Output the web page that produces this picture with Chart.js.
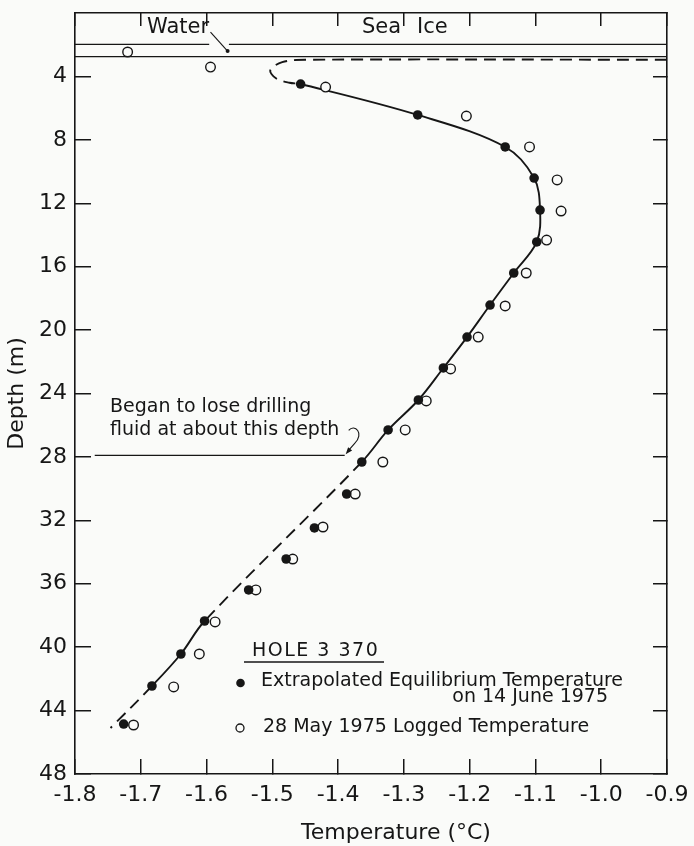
<!DOCTYPE html>
<html>
<head>
<meta charset="utf-8">
<script src="https://cdn.jsdelivr.net/npm/chart.js@4.4.1/dist/chart.umd.min.js"></script>
<style>
  html, body { margin: 0; padding: 0; background: #fafbf9; }
  #wrap { width: 694px; height: 846px; }
</style>
</head>
<body>
<div id="wrap"><canvas id="c" width="694" height="846"></canvas></div>
<script>
// ---------- data ----------
const xTickValues = [-1.8, -1.7, -1.6, -1.5, -1.4, -1.3, -1.2, -1.1, -1.0, -0.9];
const yTickValues = [4, 8, 12, 16, 20, 24, 28, 32, 36, 40, 44, 48];

// Extrapolated equilibrium temperature on 14 June 1975 (filled circles)
const eqDepth = [4.48, 6.43, 8.45, 10.41, 12.43, 14.44, 16.40, 18.42, 20.44, 22.39, 24.41, 26.30, 28.32, 30.34, 32.48, 34.44, 36.39, 38.35, 40.43, 42.45, 44.85];
const eqTemp  = [-1.457, -1.279, -1.146, -1.102, -1.093, -1.098, -1.133, -1.169, -1.204, -1.240, -1.278, -1.324, -1.364, -1.387, -1.436, -1.479, -1.536, -1.603, -1.639, -1.683, -1.726];

// 28 May 1975 logged temperature (open circles)
const logDepth = [2.46, 3.41, 4.67, 6.50, 8.45, 10.53, 12.49, 14.32, 16.40, 18.48, 20.44, 22.45, 24.47, 26.30, 28.32, 30.34, 32.42, 34.44, 36.39, 38.41, 40.43, 42.51, 44.91];
const logTemp  = [-1.720, -1.594, -1.419, -1.205, -1.109, -1.067, -1.061, -1.083, -1.114, -1.146, -1.187, -1.229, -1.266, -1.298, -1.332, -1.374, -1.423, -1.469, -1.525, -1.587, -1.611, -1.650, -1.711];

// Drawn profile curve (vertices)
const curveDepth = [2.95, 2.95, 3.10, 3.60, 4.10, 4.40, 4.48, 6.43, 8.45, 10.41, 12.43, 14.44, 16.40, 18.42, 20.44, 22.39, 24.41, 26.30, 28.32, 38.35, 40.43, 42.45, 45.10];
const curveTemp  = [-0.90, -1.45, -1.485, -1.503, -1.495, -1.474, -1.457, -1.279, -1.146, -1.102, -1.093, -1.098, -1.133, -1.169, -1.204, -1.240, -1.278, -1.324, -1.364, -1.603, -1.639, -1.683, -1.746];
// depth ranges where the curve is dashed
const dashedDepthRanges = [[0, 4.48], [28.32, 38.35], [42.45, 48]];

// layers at top (sea ice / water), depths in m
const iceLayerDepths = [1.98, 2.75];
const lossDepth = 27.9;

// ---------- styling ----------
const INK = '#161616';
const BG = '#fafbf9';
const FAM = "'DejaVu Sans', 'Liberation Sans', sans-serif";

const toPts = (xs, ys) => xs.map((v, i) => ({ x: v, y: ys[i] }));
const isDashed = d => dashedDepthRanges.some(r => d >= r[0] && d <= r[1]);

const annot = {
  id: 'annot',
  afterDatasetsDraw(chart) {
    const { ctx } = chart;
    const xs = chart.scales.x, ys = chart.scales.y;
    const X = v => xs.getPixelForValue(v), Y = v => ys.getPixelForValue(v);
    const L = chart.chartArea.left, R = chart.chartArea.right;
    ctx.save();
    ctx.strokeStyle = INK; ctx.fillStyle = INK;
    ctx.lineCap = 'butt';

    // sea-ice / water layer lines
    ctx.lineWidth = 1.4;
    ctx.beginPath();
    ctx.moveTo(L, Y(iceLayerDepths[0])); ctx.lineTo(X(-1.596), Y(iceLayerDepths[0]));
    ctx.moveTo(X(-1.566), Y(iceLayerDepths[0])); ctx.lineTo(R, Y(iceLayerDepths[0]));
    ctx.moveTo(L, Y(iceLayerDepths[1])); ctx.lineTo(R, Y(iceLayerDepths[1]));
    ctx.stroke();

    // Water arrow
    ctx.lineWidth = 1.1;
    ctx.beginPath();
    ctx.moveTo(X(-1.594), Y(1.2)); ctx.lineTo(X(-1.568), Y(2.4));
    ctx.stroke();
    ctx.beginPath(); ctx.arc(X(-1.568), Y(2.4), 2, 0, Math.PI * 2); ctx.fill();

    ctx.textBaseline = 'middle';
    ctx.textAlign = 'left';
    ctx.font = `21px ${FAM}`;
    ctx.fillText('Water', 147, 28);
    ctx.fillText('Sea', 362, 28);
    ctx.fillText('Ice', 417, 28);

    // drilling fluid note
    ctx.font = `19px ${FAM}`;
    ctx.fillText('Began to lose drilling', 110, 407);
    ctx.fillText('fluid at about this depth', 110, 430);
    ctx.lineWidth = 1.1;
    const lx1 = X(-1.770), lx2 = X(-1.390), ly = Y(lossDepth);
    ctx.beginPath(); ctx.moveTo(lx1, ly); ctx.lineTo(lx2, ly); ctx.stroke();
    // curly pointer
    const tip = { x: lx2 + 1, y: ly - 1 };
    ctx.beginPath();
    ctx.moveTo(lx2 + 4, ly - 25);
    ctx.bezierCurveTo(lx2 + 10, ly - 32, lx2 + 20, ly - 22, lx2 + 10, ly - 12);
    ctx.lineTo(tip.x + 2, tip.y - 3);
    ctx.stroke();
    {
      const dx = tip.x - (lx2 + 10), dy = tip.y - (ly - 12);
      const n = Math.hypot(dx, dy), ux = dx / n, uy = dy / n;
      const bx = tip.x - ux * 7, by = tip.y - uy * 7;
      ctx.beginPath();
      ctx.moveTo(tip.x, tip.y);
      ctx.lineTo(bx + uy * 2.6, by - ux * 2.6);
      ctx.lineTo(bx - uy * 2.6, by + ux * 2.6);
      ctx.closePath(); ctx.fill();
    }

    // legend block
    ctx.font = `19px ${FAM}`;
    try { ctx.letterSpacing = '1.5px'; } catch (e) {}
    ctx.fillText('HOLE 3 370', 252, 651);
    try { ctx.letterSpacing = '0px'; } catch (e) {}
    ctx.lineWidth = 1.4;
    ctx.beginPath(); ctx.moveTo(244, 662); ctx.lineTo(384, 662); ctx.stroke();

    ctx.beginPath(); ctx.arc(240.5, 683, 4.3, 0, Math.PI * 2); ctx.fill();
    ctx.fillText('Extrapolated Equilibrium Temperature', 261, 681);
    ctx.textAlign = 'right';
    ctx.fillText('on 14 June 1975', 608, 697);
    ctx.textAlign = 'left';
    ctx.lineWidth = 1.3;
    ctx.beginPath(); ctx.arc(240, 728, 4, 0, Math.PI * 2); ctx.stroke();
    ctx.fillText('28 May 1975 Logged Temperature', 263, 727);

    // x-axis title
    ctx.font = `22px ${FAM}`;
    ctx.textAlign = 'center';
    ctx.fillText('Temperature (\u00B0C)', 396, 833);
    ctx.restore();
  }
};

const tickFont = { family: FAM, size: 22 };
const setTicks = vals => s => { s.ticks = vals.map(v => ({ value: v })); };
const fitBox = (w, h) => s => {
  if (w !== null) s.width = w;
  if (h !== null) s.height = h;
  s.paddingLeft = 0; s.paddingRight = 0; s.paddingTop = 0; s.paddingBottom = 0;
};

new Chart(document.getElementById('c'), {
  type: 'scatter',
  data: {
    datasets: [
      {
        label: 'Extrapolated Equilibrium Temperature on 14 June 1975',
        data: toPts(eqTemp, eqDepth),
        pointRadius: 4.8, pointHoverRadius: 4.8,
        pointBackgroundColor: INK, pointBorderColor: INK, pointBorderWidth: 0,
        showLine: false
      },
      {
        label: '28 May 1975 Logged Temperature',
        data: toPts(logTemp, logDepth),
        pointRadius: 4.8, pointHoverRadius: 4.8,
        pointBackgroundColor: BG, pointBorderColor: INK, pointBorderWidth: 1.4,
        showLine: false
      },
      {
        label: 'profile',
        data: toPts(curveTemp, curveDepth),
        showLine: true, pointRadius: 0, pointHoverRadius: 0,
        borderColor: INK, borderWidth: 1.9, tension: 0.35, fill: false,
        segment: {
          borderDash: ctx => isDashed((ctx.p0.parsed.y + ctx.p1.parsed.y) / 2) ? [12, 7] : undefined
        }
      }
    ]
  },
  options: {
    responsive: false,
    animation: false,
    devicePixelRatio: 1,
    layout: { padding: 0 },
    events: [],
    plugins: { legend: { display: false }, tooltip: { enabled: false } },
    scales: {
      x: {
        type: 'linear', position: 'bottom', min: -1.8, max: -0.9,
        afterBuildTicks: setTicks(xTickValues),
        afterFit: fitBox(null, 72),
        ticks: { autoSkip: false, maxRotation: 0, padding: 23, color: INK, font: tickFont,
                 callback: v => Number(v).toFixed(1) },
        grid: { drawOnChartArea: false, drawTicks: true, tickLength: -15, color: INK, lineWidth: 1.5 },
        border: { display: true, color: INK, width: 1.6 }
      },
      x2: {
        type: 'linear', position: 'top', min: -1.8, max: -0.9,
        afterBuildTicks: setTicks(xTickValues),
        afterFit: fitBox(null, 13),
        ticks: { display: false },
        grid: { drawOnChartArea: false, drawTicks: true, tickLength: -13, color: INK, lineWidth: 1.5 },
        border: { display: true, color: INK, width: 1.6 }
      },
      y: {
        type: 'linear', position: 'left', reverse: true, min: 0, max: 48,
        afterBuildTicks: setTicks(yTickValues),
        afterFit: fitBox(75, null),
        ticks: { autoSkip: false, padding: 24, color: INK, font: tickFont, callback: v => String(v) },
        grid: { drawOnChartArea: false, drawTicks: true, tickLength: -16, color: INK, lineWidth: 1.5 },
        border: { display: true, color: INK, width: 1.6 },
        title: { display: true, text: 'Depth (m)', color: INK, font: { family: FAM, size: 22 }, padding: { top: 4, bottom: 0 } }
      },
      y2: {
        type: 'linear', position: 'right', reverse: true, min: 0, max: 48,
        afterBuildTicks: setTicks(yTickValues),
        afterFit: fitBox(27, null),
        ticks: { display: false },
        grid: { drawOnChartArea: false, drawTicks: true, tickLength: -14, color: INK, lineWidth: 1.5 },
        border: { display: true, color: INK, width: 1.6 }
      }
    }
  },
  plugins: [annot]
});
</script>
</body>
</html>
